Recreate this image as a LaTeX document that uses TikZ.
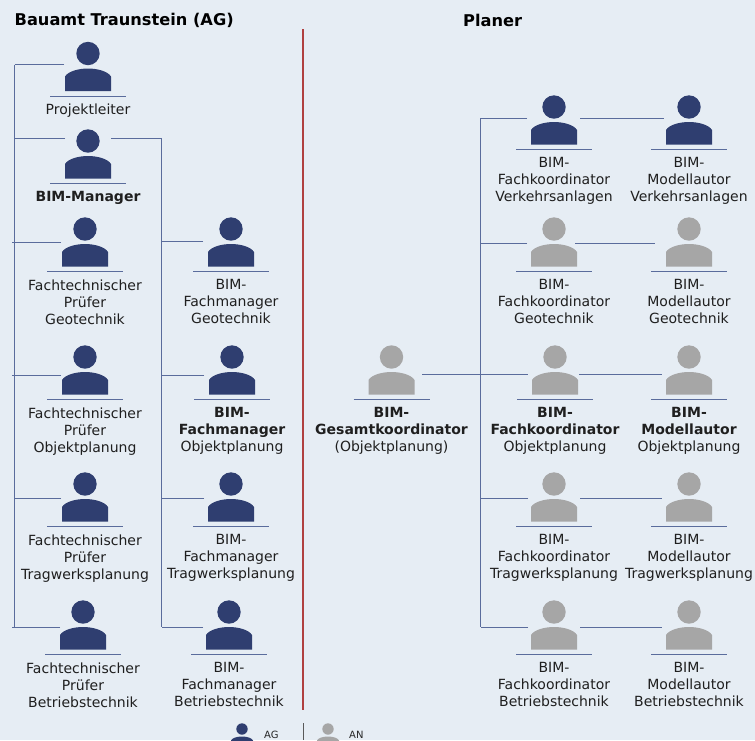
\documentclass[tikz,border=0pt]{standalone}
\usepackage{fontspec}
\setmainfont{DejaVu Sans}
\definecolor{bgc}{HTML}{E6EDF4}
\definecolor{navy}{HTML}{2F3E70}
\definecolor{grayp}{HTML}{A6A6A6}
\definecolor{linec}{HTML}{5A6C9C}
\definecolor{redl}{HTML}{B04040}
\tikzset{
  conn/.style={draw=linec,line width=0.9pt},
  rule/.style={draw=linec,line width=0.9pt},
  lbl/.style={align=center,font=\fontsize{14}{17}\selectfont,inner sep=0pt,anchor=north,text=black!88},
  head/.style={font=\fontsize{16.2}{18}\selectfont\bfseries,inner sep=0pt,text=black},
  small/.style={font=\fontsize{10}{11}\selectfont,inner sep=0pt,text=black!85},
  anchorbox/.style={inner sep=0pt,minimum width=46pt,minimum height=50pt}
}
% id, cx, head y, colour, text, west end x, east end x, connector y
\newcommand{\person}[8]{
  \fill[#4] (#2,#3) circle (11.7pt);
  \fill[#4] (#2-23,#3+37.5) -- (#2-23,#3+23) .. controls (#2-20,#3+18) and (#2-10,#3+15) .. (#2,#3+15)
     .. controls (#2+10,#3+15) and (#2+20,#3+18) .. (#2+23,#3+23) -- (#2+23,#3+37.5) -- cycle;
  \draw[rule] (#2-38,#3+42.5) -- (#2+38,#3+42.5);
  \node[anchorbox] (#1) at (#2,#3+13) {};
  \coordinate (#1-w) at (#6,#8);
  \coordinate (#1-e) at (#7,#8);
  \node[lbl] (#1-t) at (#2,#3+50.5) {#5};
}
\newcommand{\miniperson}[3]{
  \fill[#3] (#1,#2) circle (5.7pt);
  \fill[#3] (#1-11,#2+19) -- (#1-11,#2+11.5) .. controls (#1-10,#2+9) and (#1-5,#2+7.5) .. (#1,#2+7.5)
     .. controls (#1+5,#2+7.5) and (#1+10,#2+9) .. (#1+11,#2+11.5) -- (#1+11,#2+19) -- cycle;
}
\begin{document}
\begin{tikzpicture}[x=1pt,y=-1pt]
\useasboundingbox (0,0) rectangle (755,740);
\clip (0,0) rectangle (755,740);
\fill[bgc] (0,0) rectangle (755,740);
\node[head,anchor=west] (titleA) at (14.5,20.5) {Bauamt Traunstein (AG)};
\node[head,anchor=west] (titleB) at (463,20.5) {Planer};
\coordinate (redtop) at (303,29);
\coordinate (redbot) at (303,710);
\draw[redl,line width=1.4pt] (redtop) -- (redbot);

\person{a1}{88}{53.5}{navy}{Projektleiter}{64}{112}{64.5}
\person{a2}{88}{141}{navy}{\textbf{BIM-Manager}}{65}{111}{138}
\person{a3}{85}{229}{navy}{Fachtechnischer\\Prüfer\\Geotechnik}{61}{110}{242}
\person{a4}{85}{357}{navy}{Fachtechnischer\\Prüfer\\Objektplanung}{61}{110}{375}
\person{a5}{85}{484}{navy}{Fachtechnischer\\Prüfer\\Tragwerksplanung}{61}{110}{498}
\person{a6}{83}{612}{navy}{Fachtechnischer\\Prüfer\\Betriebstechnik}{60}{110}{627}

\person{b3}{231}{229}{navy}{BIM-\\Fachmanager\\Geotechnik}{203}{260}{241.5}
\person{b4}{232}{357}{navy}{\textbf{BIM-}\\\textbf{Fachmanager}\\Objektplanung}{204}{260}{375}
\person{b5}{231}{484}{navy}{BIM-\\Fachmanager\\Tragwerksplanung}{204}{260}{498}
\person{b6}{229}{612}{navy}{BIM-\\Fachmanager\\Betriebstechnik}{203}{260}{627}

\person{g}{391.5}{357}{grayp}{\textbf{BIM-}\\\textbf{Gesamtkoordinator}\\(Objektplanung)}{370}{422}{374.5}

\person{k1}{554}{107}{navy}{BIM-\\Fachkoordinator\\Verkehrsanlagen}{527}{580}{118}
\person{k2}{554}{229}{grayp}{BIM-\\Fachkoordinator\\Geotechnik}{527}{575}{243}
\person{k3}{555}{357}{grayp}{\textbf{BIM-}\\\textbf{Fachkoordinator}\\Objektplanung}{528}{579}{374.5}
\person{k4}{554}{484}{grayp}{BIM-\\Fachkoordinator\\Tragwerksplanung}{528}{580}{498}
\person{k5}{554}{612}{grayp}{BIM-\\Fachkoordinator\\Betriebstechnik}{528}{580}{627}

\person{m1}{689}{107}{navy}{BIM-\\Modellautor\\Verkehrsanlagen}{664}{720}{118}
\person{m2}{689}{229}{grayp}{BIM-\\Modellautor\\Geotechnik}{655}{720}{243}
\person{m3}{689}{357}{grayp}{\textbf{BIM-}\\\textbf{Modellautor}\\Objektplanung}{662}{720}{374.5}
\person{m4}{689}{484}{grayp}{BIM-\\Modellautor\\Tragwerksplanung}{662}{720}{498}
\person{m5}{689}{612}{grayp}{BIM-\\Modellautor\\Betriebstechnik}{662}{720}{627}

% buses
\coordinate (busA) at (14.5,64.5);
\coordinate (busAb) at (14.5,627);
\coordinate (busB) at (161.5,138);
\coordinate (busBb) at (161.5,627);
\coordinate (busC) at (480.5,118);
\coordinate (busCb) at (480.5,627);
\draw[conn] (busA) -- (busAb);
\draw[conn] (busB) -- (busBb);
\draw[conn] (busC) -- (busCb);
\draw[conn] (a1-w) -- (a1-w -| busA);
\draw[conn] (a2-w) -- (a2-w -| busA);
\draw[conn] (a3-w) -- ([xshift=-2.5pt]a3-w -| busA);
\draw[conn] (a4-w) -- ([xshift=-2.5pt]a4-w -| busA);
\draw[conn] (a5-w) -- (a5-w -| busA);
\draw[conn] (a6-w) -- ([xshift=-2.5pt]a6-w -| busA);
\draw[conn] (a2-e) -- (a2-e -| busB);
\draw[conn] (b3-w) -- (b3-w -| busB);
\draw[conn] (b4-w) -- (b4-w -| busB);
\draw[conn] (b5-w) -- (b5-w -| busB);
\draw[conn] (b6-w) -- (b6-w -| busB);
\draw[conn] (g-e) -- (k3-w);
\draw[conn] (k1-w) -- (k1-w -| busC);
\draw[conn] (k2-w) -- (k2-w -| busC);
\draw[conn] (k4-w) -- (k4-w -| busC);
\draw[conn] (k5-w) -- (k5-w -| busC);
\draw[conn] (k1-e) -- (m1-w);
\draw[conn] (k2-e) -- (m2-w);
\draw[conn] (k3-e) -- (m3-w);
\draw[conn] (k4-e) -- (m4-w);
\draw[conn] (k5-e) -- (m5-w);

% legend
\miniperson{242}{729}{navy}
\miniperson{328}{729}{grayp}
\node[small,anchor=west] (lgA) at (264,735) {AG};
\node[small,anchor=west] (lgB) at (349,735) {AN};
\coordinate (ldt) at (303,723);
\coordinate (ldb) at (303,740);
\draw[black!65,line width=1pt] (ldt) -- (ldb);
\end{tikzpicture}
\end{document}
